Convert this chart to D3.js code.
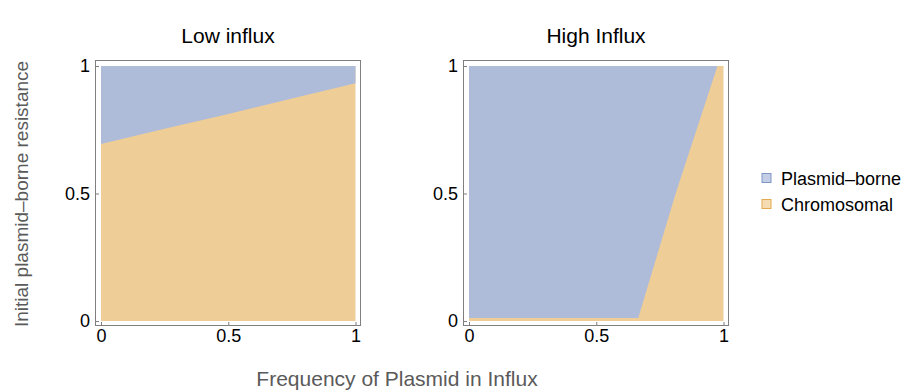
<!DOCTYPE html>
<meta charset="utf-8">
<html>
<head>
  <title>Plasmid-borne vs chromosomal resistance</title>
  <style>
    body { margin: 0; background: #fff; }
    svg { width: 904px; height: 392px; font-family: "Liberation Sans", Arial, sans-serif; }
    .frame { fill: none; stroke: #7f7f7f; stroke-width: 1px; }
    .tick line { stroke: #7f7f7f; }
    .tick text { fill: #000; font-size: 18px; }
    .title { font-size: 21px; fill: #000; }
    .axis-label { fill: #5a5a5a; }
    .legend text { font-size: 18px; fill: #000; }
  </style>
  <script src="https://d3js.org/d3.v7.min.js"></script>
</head>
<body>
  <svg></svg>
  <script>
    // tick values / labels shared by both panels
    var tickValues = [0, 0.5, 1];
    var tickLabels = ["0", "0.5", "1"];

    // Low influx: boundary (resistance) above which plasmid-borne wins, by influx frequency
    var lowInfluxFreq = [0, 0.25, 0.5, 0.75, 1];
    var lowInfluxBoundary = [0.694, 0.754, 0.812, 0.873, 0.932];

    // High influx: boundary (frequency) left of which plasmid-borne wins, by resistance
    var highInfluxRes = [0.012, 0.5, 0.99, 1];
    var highInfluxBoundary = [0.665, 0.812, 0.973, 0.976];

    var titles = ["Low influx", "High Influx"];
    var legendLabels = ["Plasmid\u2013borne", "Chromosomal"];
    var fillColors = ["#aebbd9", "#eecd97"];
    var edgeColors = ["#7f97c6", "#e3aa4f"];
    var swatchColors = ["#c3cde5", "#f5dcb2"];

    var svg = d3.select("svg");

    var frameW = 266, frameH = 266;
    var frameTop = 60;
    var panelLeft = [95, 463];

    function drawPanel(i) {
      var L = panelLeft[i];
      var g = svg.append("g").attr("transform", "translate(" + L + "," + frameTop + ")");

      var x = d3.scaleLinear().domain([0, 1]).range([6, 260.5]);
      var y = d3.scaleLinear().domain([0, 1]).range([261, 6]);

      // chromosomal fills the whole region, plasmid-borne drawn on top
      g.append("rect")
        .attr("x", x(0)).attr("y", y(1))
        .attr("width", x(1) - x(0)).attr("height", y(0) - y(1))
        .attr("fill", fillColors[1]);

      var path;
      if (i === 0) {
        var area = d3.area()
          .x(function(d, j) { return x(lowInfluxFreq[j]); })
          .y0(function(d) { return y(d); })
          .y1(function() { return y(1); });
        path = area(lowInfluxBoundary);
      } else {
        var areaH = d3.area()
          .y(function(d, j) { return y(highInfluxRes[j]); })
          .x0(function() { return x(0); })
          .x1(function(d) { return x(d); });
        path = areaH(highInfluxBoundary);
      }
      g.append("path").attr("d", path).attr("fill", fillColors[0]);

      // axes with inward ticks
      var xAxis = d3.axisBottom(x).tickValues(tickValues)
        .tickFormat(function(d, j) { return tickLabels[j]; })
        .tickSizeInner(-4).tickSizeOuter(0).tickPadding(3);
      var yAxis = d3.axisLeft(y).tickValues(tickValues)
        .tickFormat(function(d, j) { return tickLabels[j]; })
        .tickSizeInner(-4).tickSizeOuter(0).tickPadding(5);

      var gx = g.append("g").attr("transform", "translate(0," + frameH + ")").call(xAxis);
      var gy = g.append("g").call(yAxis);
      gx.select(".domain").remove();
      gy.select(".domain").remove();
      gx.selectAll("text").attr("font-family", null).attr("font-size", null);
      gy.selectAll("text").attr("font-family", null).attr("font-size", null);

      g.append("rect").attr("class", "frame")
        .attr("x", 0.5).attr("y", 0.5)
        .attr("width", frameW - 1).attr("height", frameH - 1);

      svg.append("text").attr("class", "title")
        .attr("x", L + frameW / 2).attr("y", 43)
        .attr("text-anchor", "middle")
        .text(titles[i]);
    }

    drawPanel(0);
    drawPanel(1);

    // axis labels
    svg.append("text").attr("class", "axis-label")
      .attr("x", 397).attr("y", 386)
      .attr("font-size", 21)
      .attr("text-anchor", "middle")
      .text("Frequency of Plasmid in Influx");

    svg.append("text").attr("class", "axis-label")
      .attr("transform", "translate(28,194) rotate(-90)")
      .attr("font-size", 19)
      .attr("text-anchor", "middle")
      .text("Initial plasmid\u2013borne resistance");

    // legend
    var legend = svg.append("g").attr("class", "legend");
    legendLabels.forEach(function(lab, i) {
      var row = legend.append("g").attr("transform", "translate(762," + (173.5 + i * 26) + ")");
      row.append("rect")
        .attr("width", 9).attr("height", 9)
        .attr("fill", swatchColors[i])
        .attr("stroke", edgeColors[i]).attr("stroke-width", 1);
      row.append("text").attr("x", 19).attr("y", 11).text(lab);
    });
  </script>
</body>
</html>
